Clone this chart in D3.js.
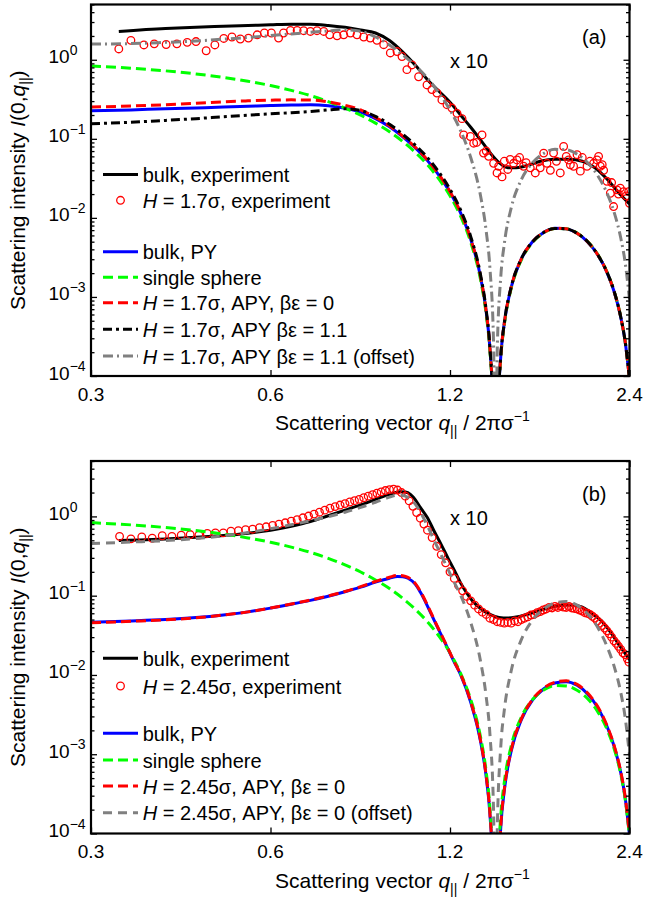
<!DOCTYPE html>
<html><head><meta charset="utf-8">
<script src="https://cdn.jsdelivr.net/npm/d3@7"></script>
<style>
body{margin:0;background:#fff}
svg{display:block}
text{font-family:"Liberation Sans",Arial,Helvetica,sans-serif;fill:#000}
</style>
</head><body>
<svg id="c" width="645" height="902"></svg>
<script>
// ---------------- DATA ----------------
const xTicks = [0.3, 0.6, 1.2, 2.4];
const yDecades = [-4, -3, -2, -1, 0];

// model grid (panel a) and single sphere form factor (both panels)
const qModelA = [0.30,0.35,0.40,0.45,0.50,0.55,0.60,0.65,0.70,0.75,0.80,0.85,0.90,0.95,1.00,1.05,1.10,1.15,1.20,1.25,
  1.30,1.35,1.38,1.40,1.42,1.43,1.44,1.46,1.48,1.52,1.58,1.65,1.72,1.80,1.88,1.96,2.04,2.12,2.20,2.26,2.32,2.36,2.40];
const singleSphere = [0.835,0.782,0.724,0.662,0.599,0.535,0.472,0.410,0.352,0.296,0.245,0.199,0.158,0.123,0.0924,0.0672,0.0469,0.0309,0.0190,0.0105,
  0.00491,0.00166,0.000601,0.000207,0.0000227,1e-7,0.000019,0.000168,0.000444,0.00128,0.00292,0.00488,0.00642,0.00734,0.00728,0.00642,0.00505,0.00350,0.00207,0.00120,0.000562,0.000275,0.000093];
const bulkPY_A = [0.226,0.232,0.240,0.246,0.252,0.258,0.264,0.268,0.270,0.262,0.243,0.218,0.180,0.142,0.106,0.0765,0.0530,0.0346,0.0211,0.0116,
  0.00537,0.00180,0.00065,0.000223,0.0000245,1e-7,0.000020,0.000177,0.000464,0.00133,0.00301,0.00498,0.00650,0.00738,0.00726,0.00638,0.00500,0.00347,0.00205,0.00119,0.000557,0.000273,0.000092];
const apyZero_A = [0.252,0.260,0.270,0.281,0.294,0.302,0.308,0.311,0.309,0.294,0.266,0.232,0.186,0.146,0.108,0.078,0.054,0.0352,0.0214,0.0117,
  0.00540,0.00181,0.00065,0.000224,0.0000246,1e-7,0.0000201,0.000178,0.000465,0.00133,0.00301,0.00498,0.00650,0.00738,0.00727,0.00639,0.00501,0.00347,0.00205,0.00119,0.000558,0.000273,0.000092];
const apyEps_A = [0.155,0.162,0.171,0.180,0.190,0.199,0.207,0.214,0.222,0.232,0.240,0.228,0.192,0.153,0.114,0.083,0.058,0.0378,0.0230,0.0126,
  0.0058,0.00192,0.00068,0.000232,0.0000250,1e-7,0.0000205,0.000180,0.000470,0.00134,0.00302,0.00497,0.00648,0.00736,0.00727,0.00640,0.00502,0.00348,0.00206,0.00120,0.000560,0.000274,0.000093];
const apyEpsOffset_A = [1.58,1.60,1.66,1.73,1.82,1.92,2.02,2.12,2.22,2.32,2.40,2.30,1.94,1.54,1.15,0.84,0.585,0.38,0.232,0.127,
  0.058,0.0192,0.0068,0.00232,0.00025,1e-6,0.000205,0.0018,0.0047,0.0134,0.0302,0.0497,0.0648,0.0736,0.0727,0.0640,0.0502,0.0348,0.0206,0.0120,0.0056,0.00274,0.00093];

// experiment (panel a, x10)
const qBulkExpA = [0.334,0.40,0.45,0.50,0.55,0.60,0.65,0.70,0.75,0.80,0.85,0.90,0.95,1.00,1.05,1.10,1.15,1.20,1.25,1.30,
  1.35,1.40,1.45,1.50,1.55,1.60,1.70,1.80,1.90,2.00,2.10,2.20,2.30,2.40];
const bulkExpA = [2.28,2.48,2.58,2.65,2.71,2.77,2.82,2.82,2.72,2.57,2.38,2.18,1.75,1.25,0.85,0.56,0.40,0.29,0.20,0.14,
  0.097,0.067,0.050,0.043,0.043,0.045,0.052,0.055,0.055,0.052,0.043,0.031,0.021,0.0150];
const qDotsA = [0.334,0.350,0.368,0.383,0.401,0.418,0.435,0.450,0.468,0.484,0.501,0.517,0.534,0.551,0.570,0.586,0.602,0.619,0.631,0.648,
  0.665,0.682,0.700,0.718,0.737,0.754,0.776,0.796,0.817,0.838,0.860,0.882,0.905,0.929,0.953,0.978,0.997,1.016,1.036,1.063,
  1.098,1.119,1.141,1.163,1.186,1.209,1.233,1.257,1.265,1.298,1.315,1.33,1.358,1.366,1.38,1.393,1.420,1.439,1.448,1.467,
  1.48,1.50,1.514,1.534,1.554,1.57,1.594,1.61,1.636,1.668,1.69,1.70,1.723,1.745,1.768,1.790,1.81,1.837,1.861,1.88,
  1.897,1.91,1.934,1.960,1.985,2.00,2.037,2.06,2.089,2.117,2.13,2.144,2.16,2.172,2.200,2.229,2.24,2.257,2.287,2.30,
  2.316,2.346,2.37,2.392,2.40];
const dotsA = [1.37,1.76,1.54,1.59,1.56,1.59,1.66,1.70,1.30,1.54,1.86,1.94,1.83,1.88,2.07,2.18,2.18,1.88,2.18,2.35,
  2.35,2.33,2.28,2.33,2.28,2.07,2.01,2.07,2.18,2.07,1.94,1.88,1.76,1.55,1.22,1.27,1.10,0.75,0.86,0.61,
  0.48,0.42,0.38,0.31,0.27,0.245,0.21,0.18,0.112,0.107,0.088,0.090,0.112,0.066,0.070,0.060,0.049,0.037,0.045,0.033,
  0.052,0.041,0.055,0.049,0.054,0.058,0.045,0.050,0.043,0.037,0.051,0.043,0.066,0.049,0.040,0.066,0.052,0.037,0.080,0.060,
  0.054,0.047,0.045,0.063,0.039,0.058,0.045,0.052,0.049,0.054,0.060,0.045,0.047,0.040,0.029,0.0205,0.028,0.0139,0.0226,0.020,
  0.0238,0.0215,0.019,0.0215,0.0153];

// model grid (panel b)
const qModelB = [0.30,0.35,0.40,0.45,0.50,0.55,0.60,0.65,0.70,0.75,0.80,0.85,0.90,0.95,0.98,1.00,1.02,1.05,1.07,1.10,1.13,1.16,1.19,1.22,1.25,
  1.30,1.35,1.38,1.40,1.42,1.43,1.44,1.46,1.48,1.52,1.58,1.65,1.72,1.80,1.88,1.96,2.04,2.12,2.20,2.26,2.32,2.36,2.40];
const bulkPY_B = [0.0463,0.0480,0.0500,0.0530,0.0572,0.0625,0.0697,0.0780,0.0873,0.0985,0.112,0.128,0.148,0.166,0.174,0.173,0.166,0.139,0.111,0.074,0.048,0.032,0.0215,0.0145,0.0101,
  0.0045,0.00146,0.00052,0.000175,0.000018,1e-7,0.000010,0.000120,0.000350,0.00110,0.00270,0.00480,0.00660,0.00790,0.00820,0.00740,0.00580,0.00395,0.00225,0.00128,0.000590,0.000285,0.000095];
const apyZero_B = [0.0455,0.0475,0.0495,0.0525,0.0570,0.0625,0.0700,0.0785,0.0880,0.0995,0.113,0.130,0.151,0.171,0.180,0.178,0.170,0.142,0.114,0.076,0.049,0.0325,0.0218,0.0147,0.0102,
  0.0046,0.00150,0.00053,0.000180,0.0000185,1e-7,0.0000105,0.000125,0.000360,0.00113,0.00277,0.00492,0.00675,0.00808,0.00845,0.00760,0.00595,0.00405,0.00230,0.00131,0.000605,0.000292,0.000097];
const apyZeroOffset_B = [0.455,0.475,0.495,0.525,0.570,0.625,0.700,0.785,0.880,0.995,1.13,1.30,1.51,1.75,1.86,1.84,1.74,1.42,1.14,0.76,0.49,0.325,0.218,0.147,0.102,
  0.046,0.0150,0.0053,0.00180,0.000185,1e-6,0.000105,0.00125,0.00360,0.0113,0.0277,0.0492,0.0675,0.0808,0.0845,0.0760,0.0595,0.0405,0.0230,0.0131,0.00605,0.00292,0.00097];

// experiment (panel b, x10)
const qBulkExpB = [0.334,0.36,0.40,0.45,0.50,0.55,0.60,0.65,0.70,0.75,0.80,0.85,0.90,0.95,0.99,1.01,1.03,1.05,1.07,1.10,
  1.13,1.16,1.19,1.22,1.25,1.28,1.31,1.35,1.40,1.45,1.50,1.55,1.60,1.65,1.70,1.75,1.80,1.85,1.90,1.95,
  2.00,2.05,2.10,2.15,2.20,2.25,2.30,2.35,2.40];
const bulkExpB = [0.497,0.505,0.52,0.545,0.575,0.615,0.67,0.75,0.86,1.02,1.20,1.40,1.64,1.90,2.05,2.03,1.90,1.62,1.30,0.96,
  0.64,0.44,0.30,0.21,0.145,0.108,0.085,0.069,0.058,0.0530,0.0522,0.0538,0.057,0.061,0.0655,0.0700,0.0735,0.0755,0.0765,0.0760,
  0.0715,0.064,0.056,0.0487,0.040,0.0315,0.0245,0.0195,0.0155];
const qDotsB = [0.335,0.350,0.365,0.380,0.395,0.410,0.425,0.440,0.455,0.470,0.485,0.500,0.515,0.530,0.545,0.560,0.575,0.590,0.605,0.620,
  0.635,0.650,0.665,0.680,0.695,0.710,0.725,0.740,0.755,0.770,0.785,0.800,0.815,0.830,0.845,0.860,0.875,0.890,0.905,0.920,
  0.935,0.950,0.965,0.980,0.995,1.010,1.025,1.040,1.055,1.070,1.085,1.100,1.120,1.140,1.160,1.180,1.200,1.220,1.240,1.260,
  1.280,1.300,1.320,1.340,1.360,1.380,1.400,1.420,1.440,1.460,1.480,1.500,1.520,1.540,1.560,1.580,1.600,1.620,1.640,1.660,
  1.680,1.700,1.720,1.740,1.760,1.780,1.800,1.820,1.840,1.860,1.880,1.900,1.920,1.940,1.960,1.980,2.000,2.020,2.040,2.060,
  2.080,2.100,2.120,2.140,2.160,2.180,2.200,2.220,2.240,2.260,2.280,2.300,2.320,2.340,2.360,2.380,2.395];
const dotsB = [0.56,0.52,0.55,0.53,0.57,0.56,0.58,0.59,0.58,0.61,0.62,0.62,0.65,0.66,0.68,0.69,0.72,0.74,0.77,0.80,
  0.83,0.87,0.91,0.96,1.01,1.07,1.13,1.20,1.27,1.33,1.39,1.45,1.52,1.58,1.64,1.72,1.80,1.88,1.96,2.04,
  2.12,2.18,2.20,2.15,2.00,1.80,1.57,1.34,1.12,0.95,0.80,0.67,0.54,0.42,0.33,0.26,0.20,0.165,0.135,0.115,
  0.098,0.086,0.076,0.068,0.062,0.058,0.052,0.050,0.047,0.046,0.045,0.046,0.045,0.048,0.047,0.050,0.052,0.054,0.057,0.058,
  0.061,0.063,0.066,0.068,0.071,0.070,0.073,0.071,0.074,0.072,0.071,0.073,0.070,0.069,0.068,0.066,0.064,0.061,0.060,0.058,
  0.055,0.052,0.048,0.045,0.042,0.039,0.036,0.033,0.030,0.027,0.025,0.023,0.021,0.019,0.018,0.016,0.0145];

// ---------------- DRAWING ----------------
const BLACK='#000000', BLUE='#0000ff', GREEN='#00ff00', RED='#ff0000', GRAY='#808080';
const svg = d3.select('#c');
const X0 = 91, X1 = 629.5;
const x = d3.scaleLog().domain([0.3, 2.4]).range([X0, X1]);
const zip = (q, v) => q.map((d, i) => [d, v[i]]);

const panels = [
  { id:'a', top:4.5, bottom:376, tag:'(a)', tagY:44, x10Y:68,
    series:[
      {q:qBulkExpA, v:bulkExpA, color:BLACK, dash:null},
      {dots:true, q:qDotsA, v:dotsA},
      {q:qModelA, v:bulkPY_A, color:BLUE, dash:null},
      {q:qModelA, v:singleSphere, color:GREEN, dash:'10,5'},
      {q:qModelA, v:apyZero_A, color:RED, dash:'10,5'},
      {q:qModelA, v:apyEps_A, color:BLACK, dash:'9,4,3,4'},
      {q:qModelA, v:apyEpsOffset_A, color:GRAY, dash:'10,4,2,4'}
    ],
    legend:[
      {y:174.6, color:BLACK, dash:null, parts:[['bulk, experiment']]},
      {y:200.3, dot:true, parts:[['H','i'],[' = 1.7σ, experiment']]},
      {y:251.7, color:BLUE, dash:null, parts:[['bulk, PY']]},
      {y:277.3, color:GREEN, dash:'10,5', parts:[['single sphere']]},
      {y:302.7, color:RED, dash:'10,5', parts:[['H','i'],[' = 1.7σ, APY, βε = 0']]},
      {y:329.3, color:BLACK, dash:'9,4,3,4', parts:[['H','i'],[' = 1.7σ, APY βε = 1.1']]},
      {y:356, color:GRAY, dash:'10,4,2,4', parts:[['H','i'],[' = 1.7σ, APY βε = 1.1 (offset)']]}
    ]},
  { id:'b', top:461, bottom:833.5, tag:'(b)', tagY:501, x10Y:525,
    series:[
      {q:qBulkExpB, v:bulkExpB, color:BLACK, dash:null},
      {dots:true, q:qDotsB, v:dotsB},
      {q:qModelB, v:bulkPY_B, color:BLUE, dash:null},
      {q:qModelA, v:singleSphere, color:GREEN, dash:'10,5'},
      {q:qModelB, v:apyZero_B, color:RED, dash:'10,5'},
      {q:qModelB, v:apyZeroOffset_B, color:GRAY, dash:'9,6'}
    ],
    legend:[
      {y:658.3, color:BLACK, dash:null, parts:[['bulk, experiment']]},
      {y:686, dot:true, parts:[['H','i'],[' = 2.45σ, experiment']]},
      {y:733.3, color:BLUE, dash:null, parts:[['bulk, PY']]},
      {y:760, color:GREEN, dash:'10,5', parts:[['single sphere']]},
      {y:786, color:RED, dash:'10,5', parts:[['H','i'],[' = 2.45σ, APY, βε = 0']]},
      {y:812.7, color:GRAY, dash:'9,6', parts:[['H','i'],[' = 2.45σ, APY, βε = 0 (offset)']]}
    ]}
];

panels.forEach(p => {
  const y = d3.scaleLog().domain([1e-4, 5]).range([p.bottom, p.top]);
  const g = svg.append('g');
  const clipId = 'clip-' + p.id;
  svg.append('clipPath').attr('id', clipId).append('rect')
    .attr('x', X0).attr('y', p.top).attr('width', X1 - X0).attr('height', p.bottom - p.top);
  const plot = g.append('g').attr('clip-path', `url(#${clipId})`);
  const line = d3.line().x(d => x(d[0])).y(d => y(Math.max(d[1], 1e-9))).curve(d3.curveMonotoneX);

  p.series.forEach(s => {
    const data = zip(s.q, s.v);
    if (s.dots) {
      plot.append('g').selectAll('circle').data(data).join('circle')
        .attr('cx', d => x(d[0])).attr('cy', d => y(d[1])).attr('r', 3.8)
        .attr('fill', 'none').attr('stroke', RED).attr('stroke-width', 1.3);
    } else {
      plot.append('path').datum(data).attr('d', line)
        .attr('fill', 'none').attr('stroke', s.color).attr('stroke-width', 3)
        .attr('stroke-dasharray', s.dash);
    }
  });

  // axes (ticks inward)
  const major = yDecades.map(e => Math.pow(10, e));
  const minor = [];
  yDecades.forEach(e => { for (let m = 2; m <= 9; m++) { const v = m * Math.pow(10, e); if (v <= 5) minor.push(v); } });
  const axG = g.append('g').attr('stroke', '#000');
  const addAxis = (axis, tr) => {
    const a = g.append('g').attr('transform', tr).call(axis);
    a.select('.domain').remove();
    a.selectAll('line').attr('stroke', '#000').attr('stroke-width', 1.3);
    a.selectAll('text').remove();
  };
  addAxis(d3.axisLeft(y).tickValues(major).tickSize(-6), `translate(${X0},0)`);
  addAxis(d3.axisLeft(y).tickValues(minor).tickSize(-3.5), `translate(${X0},0)`);
  addAxis(d3.axisRight(y).tickValues(major).tickSize(-6), `translate(${X1},0)`);
  addAxis(d3.axisRight(y).tickValues(minor).tickSize(-3.5), `translate(${X1},0)`);
  addAxis(d3.axisBottom(x).tickValues(xTicks).tickSize(-6), `translate(0,${p.bottom})`);
  addAxis(d3.axisTop(x).tickValues(xTicks).tickSize(-6), `translate(0,${p.top})`);

  g.append('rect').attr('x', X0).attr('y', p.top).attr('width', X1 - X0).attr('height', p.bottom - p.top)
    .attr('fill', 'none').attr('stroke', '#000').attr('stroke-width', 2.2);

  // tick labels
  xTicks.forEach(t => {
    g.append('text').attr('x', x(t)).attr('y', p.bottom + 24.5).attr('text-anchor', 'middle')
      .attr('font-size', 19).text(String(t));
  });
  yDecades.forEach(e => {
    const t = g.append('text').attr('x', 48.5).attr('y', y(Math.pow(10, e)) + 3.5).attr('font-size', 19);
    t.append('tspan').text('10');
    t.append('tspan').attr('font-size', 14).attr('dy', -8.3).text(e === 0 ? '0' : '\u2212' + (-e));
  });

  // axis titles
  const cy = (p.top + p.bottom) / 2;
  const yt = g.append('text').attr('transform', `translate(25,${cy}) rotate(-90)`)
    .attr('text-anchor', 'middle').attr('font-size', 21);
  yt.append('tspan').text('Scattering intensity ');
  yt.append('tspan').attr('font-style', 'italic').text('I');
  yt.append('tspan').text('(0,');
  yt.append('tspan').attr('font-style', 'italic').text('q');
  yt.append('tspan').attr('font-size', 14).attr('dy', 5).text('||');
  yt.append('tspan').attr('dy', -5).text(')');

  const xt = g.append('text').attr('x', 275).attr('y', p.bottom + 54).attr('font-size', 21);
  xt.append('tspan').text('Scattering vector ');
  xt.append('tspan').attr('font-style', 'italic').text('q');
  xt.append('tspan').attr('font-size', 14).attr('dy', 6).text('||');
  xt.append('tspan').attr('dy', -6).text(' / 2πσ');
  xt.append('tspan').attr('font-size', 14).attr('dy', -9).text('\u22121');

  // annotations
  g.append('text').attr('x', 582).attr('y', p.tagY).attr('font-size', 20).text(p.tag);
  g.append('text').attr('x', 450).attr('y', p.x10Y).attr('font-size', 20).text('x 10');

  // legend
  p.legend.forEach(l => {
    if (l.dot) {
      g.append('circle').attr('cx', 120.5).attr('cy', l.y).attr('r', 3.8)
        .attr('fill', 'none').attr('stroke', RED).attr('stroke-width', 1.3);
    } else {
      g.append('line').attr('x1', 103).attr('x2', 138).attr('y1', l.y).attr('y2', l.y)
        .attr('stroke', l.color).attr('stroke-width', 3).attr('stroke-dasharray', l.dash);
    }
    const t = g.append('text').attr('x', 142.7).attr('y', l.y + 7.6).attr('font-size', 20);
    l.parts.forEach(pt => {
      const ts = t.append('tspan').text(pt[0]);
      if (pt[1] === 'i') ts.attr('font-style', 'italic');
    });
  });
});
</script>
</body></html>
